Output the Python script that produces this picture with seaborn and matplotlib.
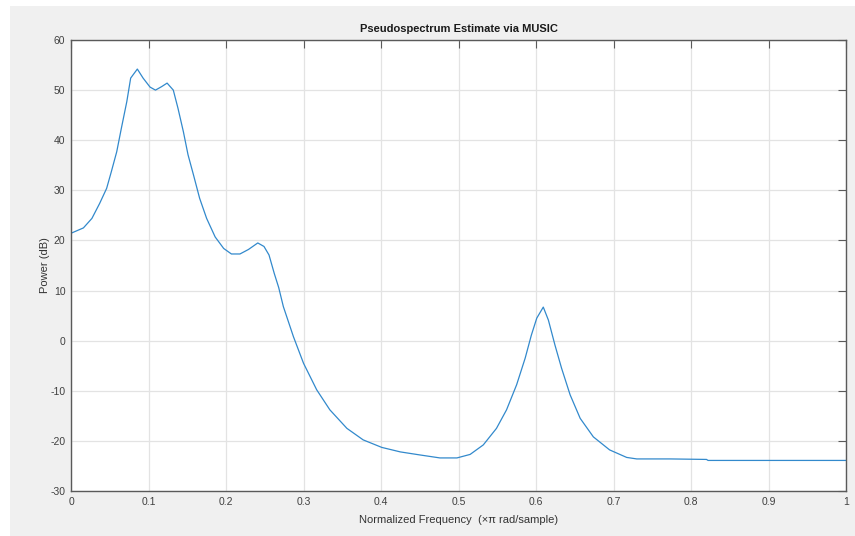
import numpy as np
import pandas as pd
import seaborn as sns
import matplotlib.pyplot as plt
from matplotlib.patches import Rectangle

# curve (normalized frequency, power in dB)
freq = [0.001, 0.016, 0.027, 0.037, 0.046, 0.052, 0.059, 0.065, 0.072, 0.077,
        0.0856, 0.093, 0.102, 0.109, 0.117, 0.124, 0.132, 0.138, 0.145, 0.151,
        0.158, 0.166, 0.175, 0.186, 0.197, 0.207, 0.218, 0.229, 0.241, 0.249,
        0.2555, 0.2623, 0.268, 0.274, 0.287, 0.300, 0.317, 0.334, 0.356, 0.377,
        0.401, 0.425, 0.450, 0.476, 0.498, 0.515, 0.532, 0.549, 0.562, 0.575,
        0.586, 0.594, 0.601, 0.6094, 0.616, 0.6245, 0.633, 0.644, 0.657, 0.674,
        0.695, 0.717, 0.730, 0.773, 0.820, 0.822, 1.000]
power = [21.5, 22.5, 24.4, 27.4, 30.4, 33.7, 37.7, 42.4, 47.7, 52.4,
         54.2, 52.4, 50.6, 50.0, 50.7, 51.4, 50.0, 46.4, 41.7, 37.1,
         33.1, 28.4, 24.4, 20.7, 18.4, 17.3, 17.3, 18.2, 19.5, 18.8,
         17.1, 13.4, 10.6, 6.8, 0.8, -4.5, -9.8, -13.8, -17.5, -19.8,
         -21.3, -22.2, -22.8, -23.4, -23.4, -22.7, -20.8, -17.5, -13.8, -8.8,
         -3.5, 1.1, 4.5, 6.7, 4.1, -0.9, -5.5, -10.8, -15.5, -19.2,
         -21.8, -23.3, -23.6, -23.6, -23.7, -23.9, -23.9]
xticks = [0, 0.1, 0.2, 0.3, 0.4, 0.5, 0.6, 0.7, 0.8, 0.9, 1]
xticklabels = ["0", "0.1", "0.2", "0.3", "0.4", "0.5", "0.6", "0.7", "0.8", "0.9", "1"]
yticks = [-30, -20, -10, 0, 10, 20, 30, 40, 50, 60]

df = pd.DataFrame({"freq": freq, "power": power})

sns.set_theme(style="white")
plt.rcParams["font.family"] = ["Liberation Sans", "DejaVu Sans"]
plt.rcParams["axes.unicode_minus"] = False

fig = plt.figure(figsize=(8.55, 5.36), dpi=100, facecolor="white")
# matlab grey window
fig.add_artist(Rectangle((10 / 855, 0), 1, 530 / 536, transform=fig.transFigure,
                         facecolor="#f0f0f0", edgecolor="none", zorder=-10))
ax = fig.add_axes([71 / 855, 45 / 536, 775 / 855, 451 / 536])
ax.set_facecolor("white")

sns.lineplot(data=df, x="freq", y="power", ax=ax, color="#3289cc", linewidth=0.9)

ax.set_xlim(0, 1)
ax.set_ylim(-30, 60)
ax.set_xticks(xticks)
ax.set_xticklabels(xticklabels)
ax.set_yticks(yticks)
ax.grid(True, color="#e3e3e3", linewidth=0.9)
ax.set_axisbelow(True)
for s in ax.spines.values():
    s.set_color("#5a5a5a")
    s.set_linewidth(1.0)
ax.tick_params(axis="both", direction="in", length=6, width=0.8, color="#5a5a5a",
               labelsize=7.5, labelcolor="#404040", top=True, right=True,
               labeltop=False, labelright=False, pad=4)

ax.set_title("Pseudospectrum Estimate via MUSIC", fontsize=8, fontweight="bold",
             color="#1a1a1a", pad=6)
ax.set_xlabel("Normalized Frequency  (\u00d7\u03c0 rad/sample)", fontsize=8,
              color="#333333", labelpad=6)
ax.set_ylabel("Power (dB)", fontsize=8, color="#333333", labelpad=0)

fig.savefig("out.png", dpi=100)
